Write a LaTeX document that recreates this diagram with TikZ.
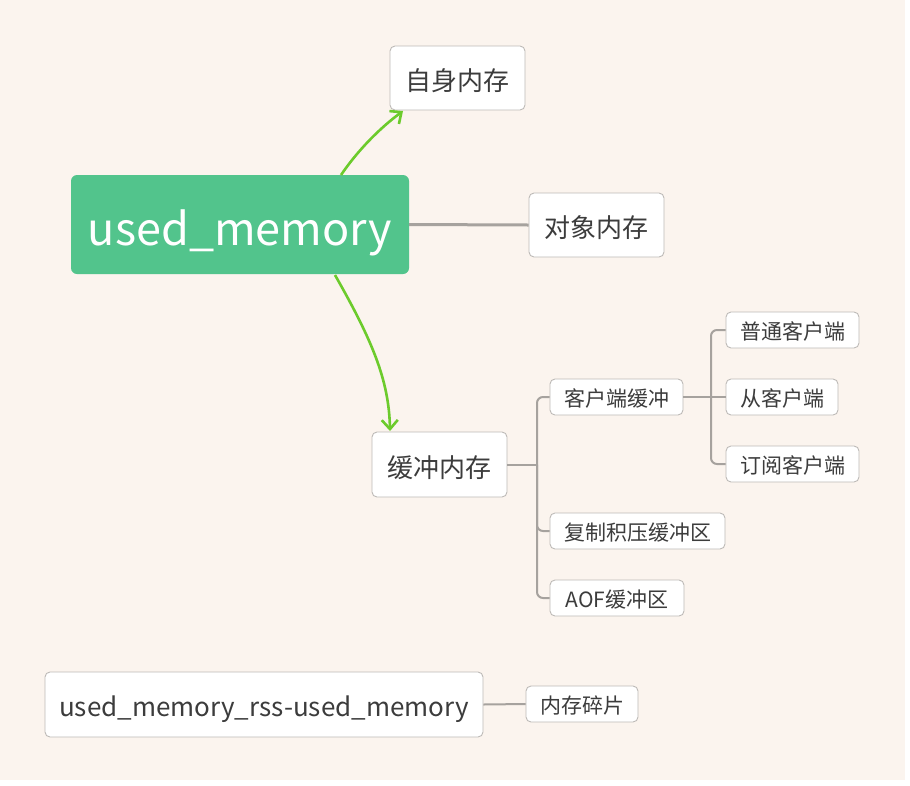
\documentclass[tikz,border=0pt]{standalone}
\usepackage{fontspec}
\setmainfont{Noto Sans CJK SC}
\usetikzlibrary{arrows.meta}
\definecolor{bgc}{HTML}{FBF4EE}
\definecolor{maing}{HTML}{52C48C}
\definecolor{arrg}{HTML}{6CCB2C}
\definecolor{boxline}{HTML}{BDBAB7}
\definecolor{linegray}{HTML}{A6A29E}
\definecolor{txt}{HTML}{3C3C3C}
\tikzset{
  box/.style={rectangle, rounded corners=5pt, draw=boxline, line width=0.9pt, fill=white, inner sep=0pt, text=txt},
  bigbox/.style={box, font=\fontsize{26}{30}\selectfont, text height=25pt, text depth=0pt},
  rssbox/.style={box, font=\fontsize{26}{32}\selectfont, text height=23pt, text depth=0pt},
  smallbox/.style={box, font=\fontsize{21}{24}\selectfont, text height=18pt, text depth=0pt},
  mainbox/.style={rectangle, rounded corners=6pt, fill=maing, inner sep=0pt, text=white, font=\fontsize{45}{52}\selectfont, text height=41pt, text depth=0pt},
  garrow/.style={draw=arrg, line width=2.6pt, -{Straight Barb[length=9pt,width=16pt,line width=2.6pt]}},
  conn/.style={draw=linegray, line width=2pt},
  thick conn/.style={draw=linegray, line width=3pt},
}
\begin{document}
\begin{tikzpicture}[x=1pt,y=-1pt]
\useasboundingbox (0,0) rectangle (910,785);
\fill[white] (0,0) rectangle (910,785);
\fill[bgc] (0,0) rectangle (905,780);

\node[mainbox, minimum width=338pt, minimum height=99pt] (main) at (240,224.5) {used\_memory};
\node[bigbox, minimum width=135pt, minimum height=64pt] (zishen) at (457.5,78) {自身内存};
\node[bigbox, minimum width=135pt, minimum height=64pt] (duixiang) at (596.5,225) {对象内存};
\node[bigbox, minimum width=135pt, minimum height=65pt] (huanchong) at (439.5,464.5) {缓冲内存};
\node[smallbox, minimum width=133pt, minimum height=36pt] (kehu) at (616.5,397) {客户端缓冲};
\node[smallbox, minimum width=133pt, minimum height=36pt] (putong) at (792.5,330) {普通客户端};
\node[smallbox, minimum width=112pt, minimum height=36pt] (cong) at (782,397) {从客户端};
\node[smallbox, minimum width=133pt, minimum height=36pt] (dingyue) at (792.5,464) {订阅客户端};
\node[smallbox, minimum width=175pt, minimum height=36pt] (fuzhi) at (637.5,531) {复制积压缓冲区};
\node[smallbox, minimum width=134pt, minimum height=36pt] (aof) at (617,598) {AOF缓冲区};
\node[rssbox, minimum width=438pt, minimum height=65pt] (rss) at (264,704.5) {used\_memory\_rss-used\_memory};
\node[smallbox, minimum width=112pt, minimum height=36pt] (suipian) at (582,704) {内存碎片};

\coordinate (m1) at (341,175);
\coordinate (z1) at (403,111);
\coordinate (m2) at (335,275);
\coordinate (h1) at (390,431);
\draw[garrow] (m1) .. controls (358,150) and (380,128) .. (z1);
\draw[garrow] (m2) .. controls (372,340) and (389,380) .. (h1);

\draw[thick conn] (main.east) -- (duixiang.west);

\coordinate (j1) at (537,464.5);
\draw[conn] (huanchong.east) -- (j1);
\draw[conn, rounded corners=6pt] (kehu.west) -| (j1) |- (aof.west);
\draw[conn, rounded corners=6pt] (j1) |- (fuzhi.west);

\coordinate (j2) at (711,397);
\draw[conn] (kehu.east) -- (cong.west);
\draw[conn, rounded corners=6pt] (putong.west) -| (j2) |- (dingyue.west);

\draw[conn] (rss.east) -- (suipian.west);
\end{tikzpicture}
\end{document}
